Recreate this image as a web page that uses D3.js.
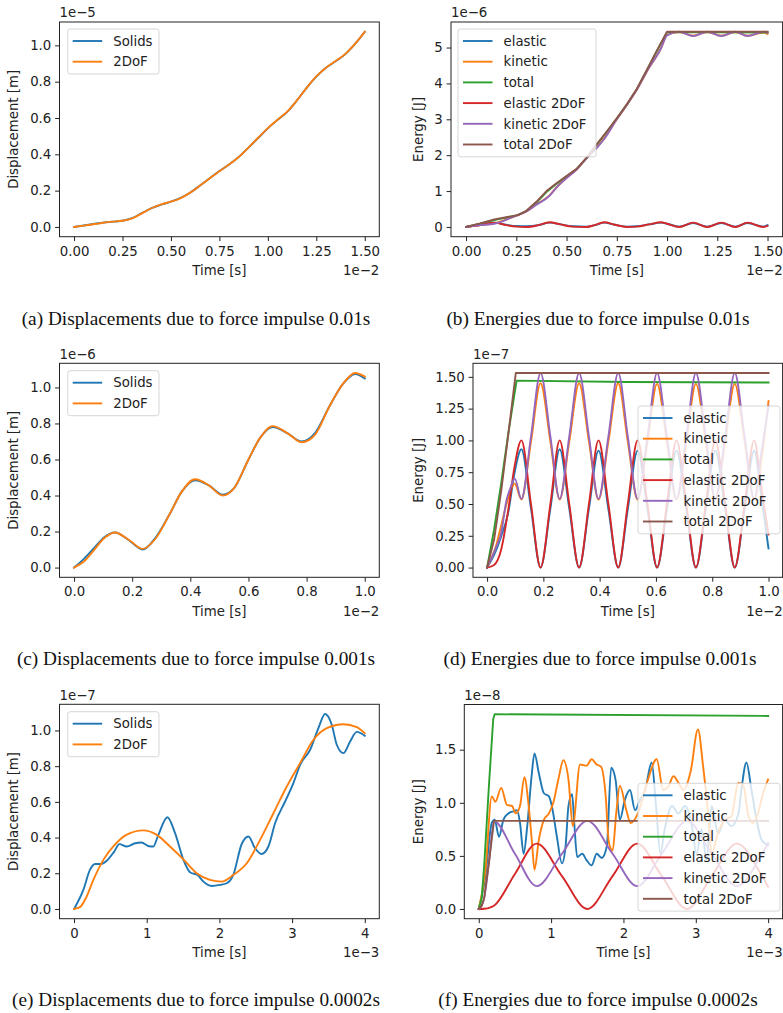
<!DOCTYPE html>
<html>
<head>
<meta charset="utf-8">
<script src="https://cdn.jsdelivr.net/npm/d3@7"></script>
<style>
  body { margin: 0; background: #fff; }
  svg { display: block; font-family: "DejaVu Sans", sans-serif; }
  .caption { font-family: "Liberation Serif", "Times New Roman", serif; }
</style>
</head>
<body>
<svg id="fig" width="783" height="1013"></svg>
<script>
// ---- (a) displacements, impulse 0.01s  (t in 1e-2 s, u in 1e-5 m)
const timeA = [0, 0.05, 0.1, 0.15, 0.2, 0.25, 0.3, 0.35, 0.4, 0.45, 0.5, 0.55, 0.6, 0.65, 0.7, 0.75, 0.8, 0.85, 0.9, 0.95, 1.0, 1.05, 1.1, 1.15, 1.2, 1.25, 1.3, 1.35, 1.4, 1.45, 1.5];
const solidsA = [0, 0.008, 0.016, 0.024, 0.029, 0.034, 0.048, 0.076, 0.103, 0.123, 0.139, 0.160, 0.190, 0.228, 0.268, 0.308, 0.344, 0.386, 0.437, 0.490, 0.543, 0.590, 0.634, 0.697, 0.766, 0.828, 0.877, 0.913, 0.952, 1.008, 1.075];
const dofA = [0, 0.007, 0.015, 0.023, 0.029, 0.034, 0.047, 0.075, 0.103, 0.124, 0.139, 0.159, 0.189, 0.228, 0.268, 0.307, 0.344, 0.385, 0.437, 0.491, 0.544, 0.590, 0.635, 0.697, 0.766, 0.829, 0.877, 0.914, 0.953, 1.008, 1.074];

// ---- (b) energies, impulse 0.01s  (t in 1e-2 s, E in 1e-6 J)
const tElasB = [0, 0.07, 0.14, 0.2, 0.25, 0.3, 0.36, 0.415, 0.47, 0.53, 0.6, 0.64, 0.687, 0.74, 0.8, 0.85, 0.91, 0.97, 1.0, 1.06, 1.13, 1.2, 1.27, 1.34, 1.4, 1.48, 1.5];
const elasticB = [0, 0.05, 0.12, 0.06, 0.025, 0.02, 0.05, 0.12, 0.07, 0.02, 0.01, 0.05, 0.12, 0.06, 0.01, 0.02, 0.07, 0.12, 0.09, 0.01, 0.11, 0.01, 0.11, 0.01, 0.11, 0.01, 0.05];
const elastic2B = [0, 0.05, 0.12, 0.05, 0.01, 0, 0.05, 0.13, 0.07, 0.01, 0, 0.05, 0.13, 0.06, 0, 0.01, 0.07, 0.13, 0.09, 0, 0.12, 0, 0.12, 0, 0.12, 0, 0.03];
const tKinB = [0, 0.07, 0.14, 0.2, 0.257, 0.3, 0.35, 0.415, 0.45, 0.5, 0.55, 0.6, 0.65, 0.687, 0.75, 0.8, 0.85, 0.9, 0.97, 1.0, 1.06, 1.13, 1.2, 1.27, 1.34, 1.4, 1.48, 1.5];
const kineticB = [0, 0.05, 0.1, 0.21, 0.33, 0.43, 0.63, 0.88, 1.1, 1.37, 1.6, 1.92, 2.21, 2.46, 3.0, 3.4, 3.83, 4.34, 4.98, 5.35, 5.43, 5.33, 5.43, 5.33, 5.43, 5.33, 5.42, 5.38];
const kinetic2B = [0, 0.05, 0.09, 0.2, 0.33, 0.43, 0.62, 0.87, 1.1, 1.36, 1.6, 1.92, 2.2, 2.45, 3.0, 3.4, 3.83, 4.34, 4.98, 5.34, 5.44, 5.32, 5.44, 5.32, 5.44, 5.32, 5.44, 5.42];
const tTotalB = [0, 0.07, 0.14, 0.2, 0.257, 0.3, 0.35, 0.4, 0.45, 0.5, 0.55, 0.6, 0.65, 0.7, 0.75, 0.8, 0.85, 0.9, 0.95, 1.0, 1.5];
const totalB = [0, 0.09, 0.19, 0.26, 0.33, 0.44, 0.68, 0.97, 1.2, 1.41, 1.61, 1.92, 2.29, 2.65, 3.02, 3.41, 3.84, 4.37, 4.91, 5.43, 5.42];
const total2B = [0, 0.1, 0.21, 0.27, 0.33, 0.45, 0.7, 1.0, 1.22, 1.42, 1.62, 1.93, 2.3, 2.66, 3.03, 3.42, 3.85, 4.38, 4.92, 5.44, 5.44];

// ---- (c) displacements, impulse 0.001s  (t in 1e-2 s, u in 1e-6 m)
const timeC = [0, 0.035, 0.07, 0.105, 0.141, 0.19, 0.236, 0.28, 0.33, 0.37, 0.416, 0.465, 0.511, 0.55, 0.6, 0.64, 0.683, 0.735, 0.783, 0.83, 0.88, 0.925, 0.967, 1.0];
const solidsC = [0, 0.05, 0.11, 0.17, 0.195, 0.15, 0.1, 0.165, 0.3, 0.42, 0.485, 0.455, 0.405, 0.44, 0.6, 0.72, 0.78, 0.745, 0.7, 0.75, 0.9, 1.02, 1.075, 1.05];
const dofC = [0, 0.035, 0.1, 0.165, 0.195, 0.152, 0.104, 0.16, 0.3, 0.42, 0.49, 0.455, 0.4, 0.44, 0.6, 0.72, 0.785, 0.745, 0.696, 0.74, 0.9, 1.02, 1.08, 1.06];

// ---- (d) energies, impulse 0.001s  (t in 1e-2 s, E in 1e-7 J)
const tElasD = [0, 0.025, 0.05, 0.075, 0.098, 0.122, 0.156, 0.19, 0.225, 0.258, 0.292, 0.327, 0.362, 0.396, 0.431, 0.466, 0.5, 0.535, 0.57, 0.604, 0.639, 0.673, 0.708, 0.742, 0.777, 0.811, 0.846, 0.88, 0.915, 0.949, 0.975, 1.0];
const elasticD = [0, 0.1, 0.245, 0.43, 0.75, 0.93, 0.465, 0, 0.465, 0.93, 0.465, 0, 0.465, 0.92, 0.46, 0, 0.46, 0.92, 0.46, 0, 0.46, 0.92, 0.46, 0, 0.46, 0.92, 0.46, 0, 0.46, 0.92, 0.55, 0.15];
const elastic2D = [0, 0.02, 0.14, 0.45, 0.8, 1.0, 0.5, 0, 0.5, 1.0, 0.5, 0, 0.5, 1.0, 0.5, 0, 0.5, 1.0, 0.5, 0, 0.5, 1.0, 0.5, 0, 0.5, 1.0, 0.5, 0, 0.5, 1.0, 0.62, 0.26];
const tKinD = [0, 0.033, 0.05, 0.069, 0.083, 0.098, 0.122, 0.156, 0.19, 0.225, 0.258, 0.292, 0.327, 0.362, 0.396, 0.431, 0.466, 0.5, 0.535, 0.57, 0.604, 0.639, 0.673, 0.708, 0.742, 0.777, 0.811, 0.846, 0.88, 0.915, 0.949, 0.975, 1.0];
const kineticD = [0, 0.18, 0.33, 0.5, 0.6, 0.66, 0.535, 0.99, 1.45, 0.99, 0.535, 0.99, 1.45, 0.99, 0.535, 0.99, 1.45, 0.99, 0.535, 0.99, 1.445, 0.99, 0.535, 0.99, 1.445, 0.99, 0.535, 0.99, 1.445, 0.99, 0.535, 0.85, 1.31];
const kinetic2D = [0, 0.165, 0.27, 0.53, 0.625, 0.7, 0.54, 1.03, 1.53, 1.03, 0.54, 1.03, 1.53, 1.03, 0.54, 1.03, 1.53, 1.03, 0.54, 1.03, 1.53, 1.03, 0.54, 1.03, 1.53, 1.03, 0.54, 1.03, 1.53, 1.03, 0.54, 0.91, 1.27];
const tTotalD = [0, 0.025, 0.05, 0.075, 0.105, 0.5, 1.0];
const totalD = [0, 0.3, 0.66, 1.05, 1.47, 1.46, 1.455];
const tTotal2D = [0, 0.025, 0.05, 0.075, 0.102, 1.0];
const total2D = [0, 0.22, 0.6, 1.04, 1.53, 1.53];

// ---- (e) displacements, impulse 0.0002s  (t in 1e-3 s, u in 1e-7 m)
const timeSolidsE = [0, 0.128, 0.22, 0.29, 0.38, 0.45, 0.55, 0.624, 0.725, 0.84, 0.93, 1.02, 1.09, 1.16, 1.284, 1.39, 1.505, 1.6, 1.70, 1.78, 1.895, 2.01, 2.1, 2.19, 2.307, 2.4, 2.49, 2.58, 2.674, 2.766, 2.904, 3.018, 3.11, 3.248, 3.362, 3.454, 3.546, 3.615, 3.706, 3.798, 3.89, 4.0];
const solidsE = [0, 0.107, 0.22, 0.252, 0.252, 0.27, 0.32, 0.363, 0.35, 0.368, 0.372, 0.353, 0.35, 0.415, 0.514, 0.425, 0.275, 0.204, 0.19, 0.153, 0.129, 0.135, 0.144, 0.19, 0.364, 0.406, 0.34, 0.308, 0.35, 0.48, 0.602, 0.705, 0.807, 0.892, 1.013, 1.092, 1.032, 0.92, 0.873, 0.938, 0.992, 0.97];
const timeDofE = [0, 0.08, 0.174, 0.266, 0.404, 0.54, 0.72, 0.954, 1.138, 1.32, 1.505, 1.688, 1.87, 2.03, 2.19, 2.376, 2.56, 2.743, 2.927, 3.11, 3.294, 3.477, 3.706, 3.89, 4.0];
const dofE = [0, 0.01, 0.07, 0.163, 0.275, 0.35, 0.415, 0.44, 0.415, 0.35, 0.278, 0.2, 0.163, 0.153, 0.19, 0.256, 0.387, 0.536, 0.686, 0.817, 0.948, 1.013, 1.035, 1.019, 0.985];

// ---- (f) energies, impulse 0.0002s  (t in 1e-3 s, E in 1e-8 J)
const tElasF = [0, 0.09, 0.18, 0.22, 0.28, 0.34, 0.41, 0.48, 0.53, 0.57, 0.62, 0.67, 0.73, 0.77, 0.83, 0.9, 0.97, 1.01, 1.08, 1.15, 1.2, 1.24, 1.29, 1.32, 1.36, 1.43, 1.49, 1.56, 1.63, 1.7, 1.77, 1.83, 1.89, 1.95, 2.02, 2.09, 2.16, 2.23, 2.3, 2.39, 2.45, 2.51, 2.57, 2.67, 2.76, 2.85, 2.94, 3.01, 3.08, 3.15, 3.22, 3.31, 3.4, 3.49, 3.59, 3.63, 3.7, 3.77, 3.84, 3.91, 4.0];
const elasticF = [0, 0.3, 0.81, 0.84, 0.68, 0.84, 0.9, 0.92, 0.93, 0.81, 0.52, 0.78, 1.25, 1.465, 1.28, 1.09, 1.06, 0.97, 0.68, 0.43, 0.59, 0.97, 1.08, 0.81, 0.49, 0.52, 0.46, 0.41, 0.52, 0.48, 0.59, 1.33, 1.22, 0.84, 1.03, 1.12, 0.93, 1.03, 1.12, 1.38, 0.97, 0.52, 0.75, 0.97, 0.9, 0.97, 0.81, 0.52, 0.75, 0.46, 0.97, 0.71, 0.84, 0.78, 0.9, 1.12, 1.38, 1.12, 0.84, 0.65, 0.6];
const tKinF = [0, 0.09, 0.18, 0.23, 0.31, 0.39, 0.46, 0.51, 0.57, 0.63, 0.69, 0.74, 0.77, 0.83, 0.9, 0.97, 1.03, 1.1, 1.17, 1.24, 1.3, 1.4, 1.49, 1.56, 1.63, 1.69, 1.75, 1.8, 1.85, 1.9, 1.95, 2.04, 2.1, 2.2, 2.33, 2.46, 2.55, 2.62, 2.69, 2.76, 2.83, 2.93, 3.03, 3.1, 3.17, 3.22, 3.3, 3.4, 3.49, 3.59, 3.66, 3.72, 3.79, 3.86, 3.93, 4.0];
const kineticF = [0, 0.35, 1.06, 1.01, 1.14, 0.98, 0.97, 0.9, 0.97, 1.24, 0.97, 0.59, 0.37, 0.65, 0.84, 0.9, 1.0, 1.22, 1.4, 1.22, 0.78, 1.36, 1.35, 1.41, 1.36, 1.34, 1.1, 0.62, 0.55, 0.9, 1.16, 0.93, 0.81, 0.9, 1.2, 1.41, 1.12, 1.15, 1.25, 1.19, 1.12, 1.3, 1.69, 1.35, 0.9, 0.52, 0.7, 0.84, 0.87, 1.19, 1.16, 0.9, 0.81, 0.9, 1.09, 1.22];
const tTotalF = [0, 0.04, 0.074, 0.143, 0.2, 0.22, 4.0];
const totalF = [0, 0.1, 0.4, 1.19, 1.79, 1.834, 1.818];
const t2DoF_F = [0, 0.04, 0.074, 0.143, 0.21, 0.5, 0.8, 1.15, 1.5, 1.85, 2.19, 2.53, 2.88, 3.22, 3.57, 3.915, 4.0];
const elastic2F = [0, 0, 0.002, 0.01, 0.03, 0.33, 0.615, 0.31, 0, 0.31, 0.615, 0.31, 0, 0.31, 0.615, 0.31, 0.21];
const kinetic2F = [0, 0.03, 0.1, 0.45, 0.825, 0.52, 0.215, 0.52, 0.83, 0.52, 0.215, 0.52, 0.83, 0.52, 0.215, 0.52, 0.62];
const tTotal2F = [0, 0.04, 0.074, 0.143, 0.21, 4.0];
const total2F = [0, 0.03, 0.1, 0.45, 0.83, 0.83];

// ---- ticks / labels
const ticks015 = [0, 0.25, 0.5, 0.75, 1.0, 1.25, 1.5];
const ticks01 = [0, 0.2, 0.4, 0.6, 0.8, 1.0];
const ticks04 = [0, 1, 2, 3, 4];
const yTicksB = [0, 1, 2, 3, 4, 5];
const yTicksD = [0, 0.25, 0.5, 0.75, 1.0, 1.25, 1.5];
const yTicksF = [0, 0.5, 1.0, 1.5];
const dispNames = ['Solids', '2DoF'];
const energyNames = ['elastic', 'kinetic', 'total', 'elastic 2DoF', 'kinetic 2DoF', 'total 2DoF'];
const captions = [
  '(a) Displacements due to force impulse 0.01s',
  '(b) Energies due to force impulse 0.01s',
  '(c) Displacements due to force impulse 0.001s',
  '(d) Energies due to force impulse 0.001s',
  '(e) Displacements due to force impulse 0.0002s',
  '(f) Energies due to force impulse 0.0002s'
];

const colors = ['#1f77b4', '#ff7f0e', '#2ca02c', '#d62728', '#9467bd', '#8c564b'];
const FS = 13.3;
const textColor = '#222';

function mk(names, list) {
  return list.map((d, i) => ({ name: names[i], color: colors[i], pts: d3.zip(d[0], d[1]), linear: !!d[2] }));
}

const panels = [
  { box: [59.5, 379.3, 22, 236.7], series: mk(dispNames, [[timeA, solidsA], [timeA, dofA]]),
    xTicks: ticks015, xFmt: d3.format('.2f'), yTicks: ticks01, yFmt: d3.format('.1f'),
    xOff: '1e\u22122', yOff: '1e\u22125', yLabel: 'Displacement [m]', labelX: 18,
    legend: { x: 67.7, y: 29, w: 91.3 }, cap: captions[0], capX: 196, capY: 325 },
  { box: [451, 782.6, 22, 236.7], series: mk(energyNames, [[tElasB, elasticB], [tKinB, kineticB], [tTotalB, totalB, 1], [tElasB, elastic2B], [tKinB, kinetic2B], [tTotalB, total2B, 1]]),
    xTicks: ticks015, xFmt: d3.format('.2f'), yTicks: yTicksB, yFmt: d3.format('d'),
    xOff: '1e\u22122', yOff: '1e\u22126', yLabel: 'Energy [J]', labelX: 423,
    legend: { x: 458, y: 29, w: 138 }, cap: captions[1], capX: 598, capY: 325 },
  { box: [59.5, 379.3, 363.3, 577.3], series: mk(dispNames, [[timeC, solidsC], [timeC, dofC]]),
    xTicks: ticks01, xFmt: d3.format('.1f'), yTicks: ticks01, yFmt: d3.format('.1f'),
    xOff: '1e\u22122', yOff: '1e\u22126', yLabel: 'Displacement [m]', labelX: 18,
    legend: { x: 67.7, y: 370.7, w: 91.3 }, cap: captions[2], capX: 196, capY: 665 },
  { box: [473, 782.6, 363.3, 577.3], series: mk(energyNames, [[tElasD, elasticD], [tKinD, kineticD], [tTotalD, totalD, 1], [tElasD, elastic2D], [tKinD, kinetic2D], [tTotal2D, total2D, 1]]),
    xTicks: ticks01, xFmt: d3.format('.1f'), yTicks: yTicksD, yFmt: d3.format('.2f'),
    xOff: '1e\u22122', yOff: '1e\u22127', yLabel: 'Energy [J]', labelX: 423,
    legend: { x: 638, y: 406, w: 142 }, cap: captions[3], capX: 600, capY: 665 },
  { box: [59.5, 379.3, 704.3, 918.7], series: mk(dispNames, [[timeSolidsE, solidsE], [timeDofE, dofE]]),
    xTicks: ticks04, xFmt: d3.format('d'), yTicks: ticks01, yFmt: d3.format('.1f'),
    xOff: '1e\u22123', yOff: '1e\u22127', yLabel: 'Displacement [m]', labelX: 18,
    legend: { x: 67.7, y: 711.7, w: 91.3 }, cap: captions[4], capX: 196, capY: 1006 },
  { box: [464.3, 782.6, 704.5, 918.7], series: mk(energyNames, [[tElasF, elasticF], [tKinF, kineticF], [tTotalF, totalF, 1], [t2DoF_F, elastic2F], [t2DoF_F, kinetic2F], [tTotal2F, total2F, 1]]),
    xTicks: ticks04, xFmt: d3.format('d'), yTicks: yTicksF, yFmt: d3.format('.1f'),
    xOff: '1e\u22123', yOff: '1e\u22128', yLabel: 'Energy [J]', labelX: 423,
    legend: { x: 638, y: 783.3, w: 142 }, cap: captions[5], capX: 598, capY: 1006 }
];

const svg = d3.select('#fig');

function padded(vals) {
  const [a, b] = d3.extent(vals);
  const m = (b - a) * 0.05;
  return [a - m, b + m];
}

panels.forEach((p, idx) => {
  const [left, right, top, bottom] = p.box;
  const allT = p.series.flatMap(s => s.pts.map(d => d[0]));
  const allV = p.series.flatMap(s => s.pts.map(d => d[1]));
  const x = d3.scaleLinear().domain(padded(allT)).range([left, right]);
  const y = d3.scaleLinear().domain(padded(allV)).range([bottom, top]);

  const g = svg.append('g').attr('class', 'panel');

  g.append('clipPath').attr('id', 'clip' + idx)
    .append('rect').attr('x', left).attr('y', top)
    .attr('width', right - left).attr('height', bottom - top);

  const lines = g.append('g').attr('clip-path', `url(#clip${idx})`);
  p.series.forEach(s => {
    const line = d3.line()
      .x(d => x(d[0]))
      .y(d => y(d[1]))
      .curve(s.linear ? d3.curveLinear : d3.curveMonotoneX);
    lines.append('path')
      .attr('d', line(s.pts))
      .attr('fill', 'none')
      .attr('stroke', s.color)
      .attr('stroke-width', 1.9)
      .attr('stroke-linejoin', 'round')
      .attr('stroke-linecap', 'square');
  });

  // axes
  const xAxis = g.append('g')
    .attr('transform', `translate(0,${bottom})`)
    .call(d3.axisBottom(x).tickValues(p.xTicks).tickFormat(p.xFmt).tickSize(4.4).tickPadding(5.3));
  const yAxis = g.append('g')
    .attr('transform', `translate(${left},0)`)
    .call(d3.axisLeft(y).tickValues(p.yTicks).tickFormat(p.yFmt).tickSize(4.4).tickPadding(3.8));
  [xAxis, yAxis].forEach(ax => {
    ax.select('.domain').remove();
    ax.attr('font-family', null).attr('font-size', FS).attr('color', textColor);
    ax.selectAll('line').attr('stroke-width', 1);
  });

  // spines
  g.append('rect')
    .attr('x', left).attr('y', top)
    .attr('width', right - left).attr('height', bottom - top)
    .attr('fill', 'none').attr('stroke', '#222').attr('stroke-width', 1);

  // labels and offsets
  g.append('text')
    .attr('x', (left + right) / 2).attr('y', bottom + 38.5)
    .attr('text-anchor', 'middle').attr('font-size', FS).attr('fill', textColor)
    .text('Time [s]');
  g.append('text')
    .attr('transform', `translate(${p.labelX},${(top + bottom) / 2}) rotate(-90)`)
    .attr('text-anchor', 'middle').attr('font-size', FS).attr('fill', textColor)
    .text(p.yLabel);
  g.append('text')
    .attr('x', left).attr('y', top - 4.6)
    .attr('font-size', FS).attr('fill', textColor)
    .text(p.yOff);
  g.append('text')
    .attr('x', right).attr('y', bottom + 38.5)
    .attr('text-anchor', 'end').attr('font-size', FS).attr('fill', textColor)
    .text(p.xOff);

  // legend
  const lg = p.legend;
  const lh = 24.3 + (p.series.length - 1) * 20.7;
  const leg = g.append('g');
  leg.append('rect')
    .attr('x', lg.x).attr('y', lg.y).attr('width', lg.w).attr('height', lh).attr('rx', 2.5)
    .attr('fill', '#fff').attr('fill-opacity', 0.8)
    .attr('stroke', '#ccc').attr('stroke-opacity', 0.8).attr('stroke-width', 1);
  p.series.forEach((s, i) => {
    const cy = lg.y + 12 + i * 20.7;
    leg.append('line')
      .attr('x1', lg.x + 5).attr('x2', lg.x + 34.5)
      .attr('y1', cy).attr('y2', cy)
      .attr('stroke', s.color).attr('stroke-width', 1.9);
    leg.append('text')
      .attr('x', lg.x + 45.5).attr('y', cy + 4.7)
      .attr('font-size', FS).attr('fill', textColor)
      .text(s.name);
  });

  // caption
  svg.append('text')
    .attr('class', 'caption')
    .attr('x', p.capX).attr('y', p.capY)
    .attr('text-anchor', 'middle').attr('font-size', 19.3).attr('fill', '#111')
    .text(p.cap);
});
</script>
</body>
</html>
